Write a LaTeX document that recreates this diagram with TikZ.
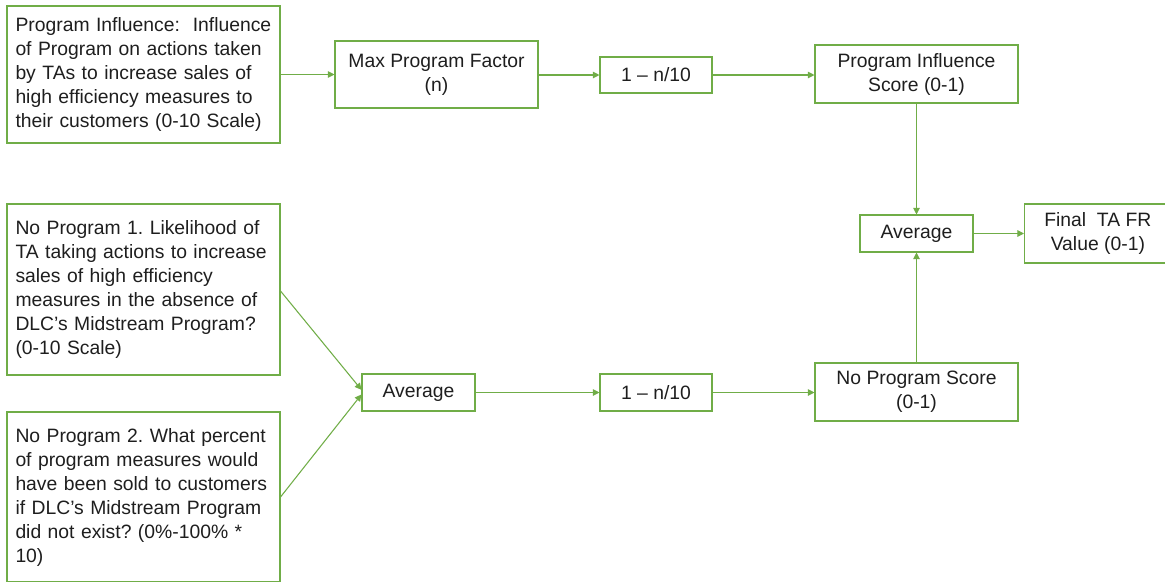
\documentclass[tikz,border=0pt]{standalone}
\usepackage{fontspec}
\setmainfont{Liberation Sans}
\usetikzlibrary{arrows.meta}
\definecolor{grn}{RGB}{112,173,71}
\definecolor{txt}{RGB}{30,30,30}
\frenchspacing
\hyphenpenalty=10000
\exhyphenpenalty=10000
\tikzset{
  box/.style={draw=grn, line width=0.8pt, text=txt, inner sep=0pt, align=center,
    font=\fontsize{14.5}{18}\selectfont},
  leftbox/.style={box, align=left, text width=192pt},
  conn/.style={draw=grn, line width=0.8pt, -{Triangle[length=5pt,width=5pt]}}
}
\begin{document}
\begin{tikzpicture}[x=0.75pt,y=-0.75pt]
\useasboundingbox (0,0) rectangle (1165,582);
\clip (0,0) rectangle (1165,582);
% left input boxes
\node[leftbox, minimum width=204.75pt, minimum height=102.75pt] (pi) at (143.5,74.5)
  {Program Influence:\ \ Influence\\of Program on actions taken\\by TAs to increase sales of\\high efficiency measures to\\their customers (0-10 Scale)};
\node[leftbox, minimum width=204.75pt, minimum height=128.25pt] (np1) at (143.5,289.5)
  {No Program 1. Likelihood of\\TA taking actions to increase\\sales of high efficiency\\measures in the absence of\\DLC’s Midstream Program?\\(0-10 Scale)};
\node[leftbox, minimum width=204.75pt, minimum height=127.5pt] (np2) at (143.5,497)
  {No Program 2. What percent\\of program measures would\\have been sold to customers\\if DLC’s Midstream Program\\did not exist? (0\%-100\% *\\10)};
% top row
\node[box, minimum width=152.25pt, minimum height=50.25pt] (mpf) at (436.5,74.5) {Max Program Factor\\(n)};
\node[box, minimum width=84pt, minimum height=27pt] (f1) at (656,75) {1 – n/10};
\node[box, minimum width=152.25pt, minimum height=43.5pt] (pis) at (916.5,74) {Program Influence\\Score (0-1)};
% right
\node[box, minimum width=84.75pt, minimum height=27.75pt] (avg2) at (916.5,233.5) {Average};
\node[box, minimum width=110pt, minimum height=44.25pt, anchor=west] (fin) at (1024,233.5)
  {Final\ \ TA FR\\Value (0-1)};
% bottom row
\node[box, minimum width=84.75pt, minimum height=27.75pt] (avg1) at (418.5,392.5) {Average};
\node[box, minimum width=84pt, minimum height=27.75pt] (f2) at (656,392.5) {1 – n/10};
\node[box, minimum width=152.25pt, minimum height=43.5pt] (nps) at (916.5,392) {No Program Score\\(0-1)};
% connectors
\draw[conn] (pi.east |- mpf.west) -- (mpf.west);
\draw[conn] (mpf.east |- f1.west) -- (f1.west);
\draw[conn] (f1.east) -- (pis.west |- f1.east);
\draw[conn] (pis.south) -- (avg2.north);
\draw[conn] (nps.north) -- (avg2.south);
\draw[conn] (avg2.east) -- (fin.west);
\coordinate (e1) at (280.5,291);
\coordinate (e2) at (280.5,497);
\coordinate (a1) at ([yshift=2pt]avg1.west);
\coordinate (a2) at ([yshift=-1.5pt]avg1.west);
\draw[conn] (np1.east |- e1) -- (a1);
\draw[conn] (np2.east |- e2) -- (a2);
\draw[conn] (avg1.east) -- (f2.west);
\draw[conn] (f2.east) -- (nps.west |- f2.east);
\end{tikzpicture}
\end{document}
